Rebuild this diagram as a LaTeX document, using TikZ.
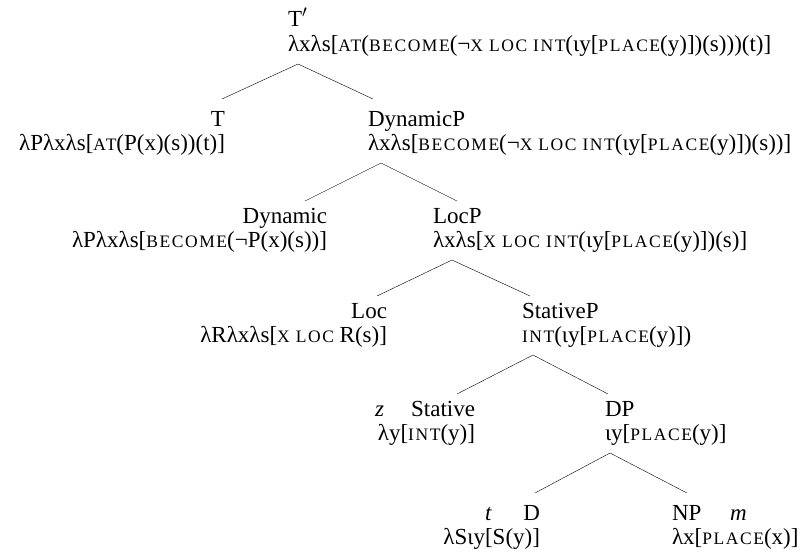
\documentclass[tikz,border=0pt]{standalone}
\usepackage{fontspec}
\setmainfont{Liberation Serif}
\newfontfamily\scfont[LetterSpace=9.0]{Liberation Serif}
\usetikzlibrary{positioning}
\newcommand\smc[1]{{\scfont\fontsize{17.5}{20}\selectfont #1}}
\tikzset{
  lbl/.style={inner sep=0pt, outer xsep=0pt, outer ysep=8pt, text height=14pt, text depth=0pt,
    font=\fontsize{23}{25}\selectfont},
  fml/.style={lbl, outer ysep=8pt, text height=15pt, text depth=5pt},
  idx/.style={lbl, font=\fontsize{23}{25}\selectfont\itshape},
}
\begin{document}
\begin{tikzpicture}[x=1pt,y=-1pt]
\useasboundingbox (0,0) rectangle (802,554);
% T'
\node[lbl,anchor=base west] (Tbar) at (288,27) {T$'$};
\node[fml,anchor=base west] (Tbar-f) at ([yshift=-24pt]Tbar.base west)
  {λxλs[\smc{AT}(\smc{BECOME}(¬\smc{X LOC INT}(ιy[\smc{PLACE}(y)])(s)))(t)]};
% T and DynamicP
\node[lbl,anchor=base east] (T) at (225,126) {T};
\node[fml,anchor=base east] (T-f) at ([yshift=-24pt]T.base east)
  {λPλxλs[\smc{AT}(P(x)(s))(t)]};
\node[lbl,anchor=base west] (DynP) at (368,126) {DynamicP};
\node[fml,anchor=base west] (DynP-f) at ([yshift=-24pt]DynP.base west)
  {λxλs[\smc{BECOME}(¬\smc{X LOC INT}(ιy[\smc{PLACE}(y)])(s))]};
% Dynamic and LocP
\node[lbl,anchor=base east] (Dyn) at (327,223) {Dynamic};
\node[fml,anchor=base east] (Dyn-f) at ([yshift=-24pt]Dyn.base east)
  {λPλxλs[\smc{BECOME}(¬P(x)(s))]};
\node[lbl,anchor=base west] (LocP) at (433,223) {LocP};
\node[fml,anchor=base west] (LocP-f) at ([yshift=-24pt]LocP.base west)
  {λxλs[\smc{X LOC INT}(ιy[\smc{PLACE}(y)])(s)]};
% Loc and StativeP
\node[lbl,anchor=base east] (Loc) at (387,318) {Loc};
\node[fml,anchor=base east] (Loc-f) at ([yshift=-24pt]Loc.base east)
  {λRλxλs[\smc{X LOC} R(s)]};
\node[lbl,anchor=base west] (StatP) at (522,318) {StativeP};
\node[fml,anchor=base west] (StatP-f) at ([yshift=-24pt]StatP.base west)
  {\smc{INT}(ιy[\smc{PLACE}(y)])};
% Stative and DP
\node[lbl,anchor=base east] (Stat) at (475,416) {Stative};
\node[idx,anchor=base west] (Stat-z) at (375,416) {z};
\node[fml,anchor=base east] (Stat-f) at ([yshift=-24pt]Stat.base east)
  {λy[\smc{INT}(y)]};
\node[lbl,anchor=base west] (DP) at (605,416) {DP};
\node[fml,anchor=base west] (DP-f) at ([yshift=-24pt]DP.base west)
  {ιy[\smc{PLACE}(y)]};
% D and NP
\node[lbl,anchor=base east] (D) at (540,520) {D};
\node[idx,anchor=base west] (D-t) at (485,520) {t};
\node[fml,anchor=base east] (D-f) at ([yshift=-24pt]D.base east)
  {λSιy[S(y)]};
\node[lbl,anchor=base west] (NP) at (672,520) {NP};
\node[idx,anchor=base west] (NP-m) at (730,520) {m};
\node[fml,anchor=base west] (NP-f) at ([yshift=-24pt]NP.base west)
  {λx[\smc{PLACE}(x)]};
% branches
\draw ([xshift=10pt]Tbar-f.south west) -- ([xshift=-3pt,yshift=5pt]T.north east);
\draw ([xshift=10pt]Tbar-f.south west) -- ([xshift=5pt,yshift=5pt]DynP.north west);
\draw ([xshift=13pt]DynP-f.south west) -- ([xshift=-22pt]Dyn.north east);
\draw ([xshift=13pt]DynP-f.south west) -- ([xshift=24pt]LocP.north west);
\draw ([xshift=19pt]LocP-f.south west) -- ([xshift=-10pt]Loc.north east);
\draw ([xshift=19pt]LocP-f.south west) -- ([xshift=8pt]StatP.north west);
\draw ([xshift=11pt]StatP-f.south west) -- ([xshift=-18pt]Stat.north east);
\draw ([xshift=11pt]StatP-f.south west) -- ([xshift=3pt]DP.north west);
\draw ([xshift=5pt]DP-f.south west) -- ([xshift=-5pt,yshift=5pt]D.north east);
\draw ([xshift=5pt]DP-f.south west) -- ([xshift=15pt,yshift=5pt]NP.north west);
\end{tikzpicture}
\end{document}
